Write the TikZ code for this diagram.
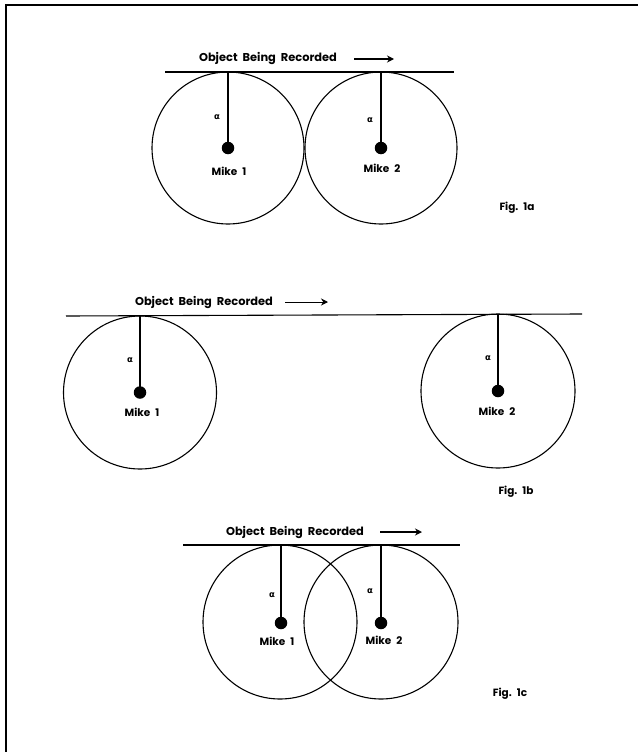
\documentclass[tikz,border=0pt]{standalone}
\usepackage{fontspec}
\setmainfont{Poppins}
\newfontfamily\greekfont{DejaVu Sans}
\usetikzlibrary{arrows.meta}

\tikzset{
  pickup/.style={draw, circle, line width=1.1pt, inner sep=0pt, outer sep=0pt},
  mikedot/.style={fill, circle, minimum size=12.5pt, inner sep=0pt},
  radius line/.style={line width=1.3pt},
  subject/.style={line width=1.1pt},
  caption/.style={font=\bfseries\fontsize{11.4}{12}\selectfont, inner sep=0pt},
  mikelabel/.style={font=\bfseries\fontsize{10.5}{11}\selectfont, inner sep=0pt},
  figlabel/.style={font=\bfseries\fontsize{10.5}{11}\selectfont, inner sep=0pt},
  alphalabel/.style={font=\greekfont\bfseries\fontsize{8.5}{9}\selectfont, inner sep=0pt},
  motion/.style={line width=1.3pt, -{Stealth[length=7pt,width=7pt]}},
}
\newcommand{\gap}{\hspace{5pt}}

\begin{document}
\begin{tikzpicture}[x=1pt, y=-1pt]
  \useasboundingbox (0,0) rectangle (638,752);

  % page frame (top and left rules)
  \coordinate (frameBL) at (6,752);
  \coordinate (frameTL) at (6,5);
  \coordinate (frameTR) at (638,5);
  \draw[line width=1.1pt] (frameBL) -- (frameTL) -- (frameTR);

  % ---------------- Fig. 1a : tangent pickup circles ----------------
  \coordinate (la) at (165,72);
  \coordinate (ra) at (454,72);
  \draw[subject] (la) -- (ra);
  \node[caption] (ta) at (268,59) {Object\gap Being\gap Recorded};
  \coordinate (asa) at (354,59);
  \coordinate (aea) at (394,59);
  \draw[motion] (asa) -- (aea);

  \node[pickup, minimum size=152pt] (ca1) at (228,148) {};
  \node[pickup, minimum size=152pt] (ca2) at (381,148) {};
  \node[mikedot] (ma1) at (228,148) {};
  \node[mikedot] (ma2) at (381,148) {};
  \draw[radius line] (ca1.north) -- (ma1.center);
  \draw[radius line] (ca2.north) -- (ma2.center);
  \node[alphalabel] (aa1) at (217,117) {α};
  \node[alphalabel] (aa2) at (370,120) {α};
  \node[mikelabel] (na1) at (229,171) {Mike\gap 1};
  \node[mikelabel] (na2) at (382,168) {Mike\gap 2};
  \node[figlabel] (fa) at (517,208) {Fig.\gap 1a};

  % ---------------- Fig. 1b : widely spaced pickup circles ----------------
  \coordinate (lb) at (66,316);
  \coordinate (rb) at (582,314);
  \draw[subject] (lb) -- (rb);
  \node[caption] (tb) at (204,302) {Object\gap Being\gap Recorded};
  \coordinate (asb) at (285,302);
  \coordinate (aeb) at (328,302);
  \draw[motion, line width=0.9pt] (asb) -- (aeb);

  \node[pickup, minimum size=153pt] (cb1) at (140,392.5) {};
  \node[pickup, minimum size=154pt] (cb2) at (498,391) {};
  \node[mikedot] (mb1) at (140,392.5) {};
  \node[mikedot] (mb2) at (498,391) {};
  \draw[radius line] (cb1.north) -- (mb1.center);
  \draw[radius line] (cb2.north) -- (mb2.center);
  \node[alphalabel] (ab1) at (130,360) {α};
  \node[alphalabel] (ab2) at (488,358) {α};
  \node[mikelabel] (nb1) at (142,412) {Mike\gap 1};
  \node[mikelabel] (nb2) at (497,411) {Mike\gap 2};
  \node[figlabel] (fb) at (516,492) {Fig.\gap 1b};

  % ---------------- Fig. 1c : overlapping pickup circles ----------------
  \coordinate (lc) at (183,545);
  \coordinate (rc) at (460,545);
  \draw[subject] (lc) -- (rc);
  \node[caption] (tc) at (295,532) {Object\gap Being\gap Recorded};
  \coordinate (asc) at (380,532);
  \coordinate (aec) at (422,532);
  \draw[motion] (asc) -- (aec);

  \node[pickup, minimum size=154pt] (cc1) at (280,622) {};
  \node[pickup, minimum size=154pt] (cc2) at (381,622) {};
  \node[mikedot] (mc1) at (281,623) {};
  \node[mikedot] (mc2) at (381,623) {};
  \draw[radius line] (cc1.north -| mc1) -- (mc1.center);
  \draw[radius line] (cc2.north) -- (mc2.center);
  \node[alphalabel] (ac1) at (272,595) {α};
  \node[alphalabel] (ac2) at (370,591) {α};
  \node[mikelabel] (nc1) at (277,641) {Mike\gap 1};
  \node[mikelabel] (nc2) at (384,640) {Mike\gap 2};
  \node[figlabel] (fc) at (510,694) {Fig.\gap 1c};
\end{tikzpicture}
\end{document}
